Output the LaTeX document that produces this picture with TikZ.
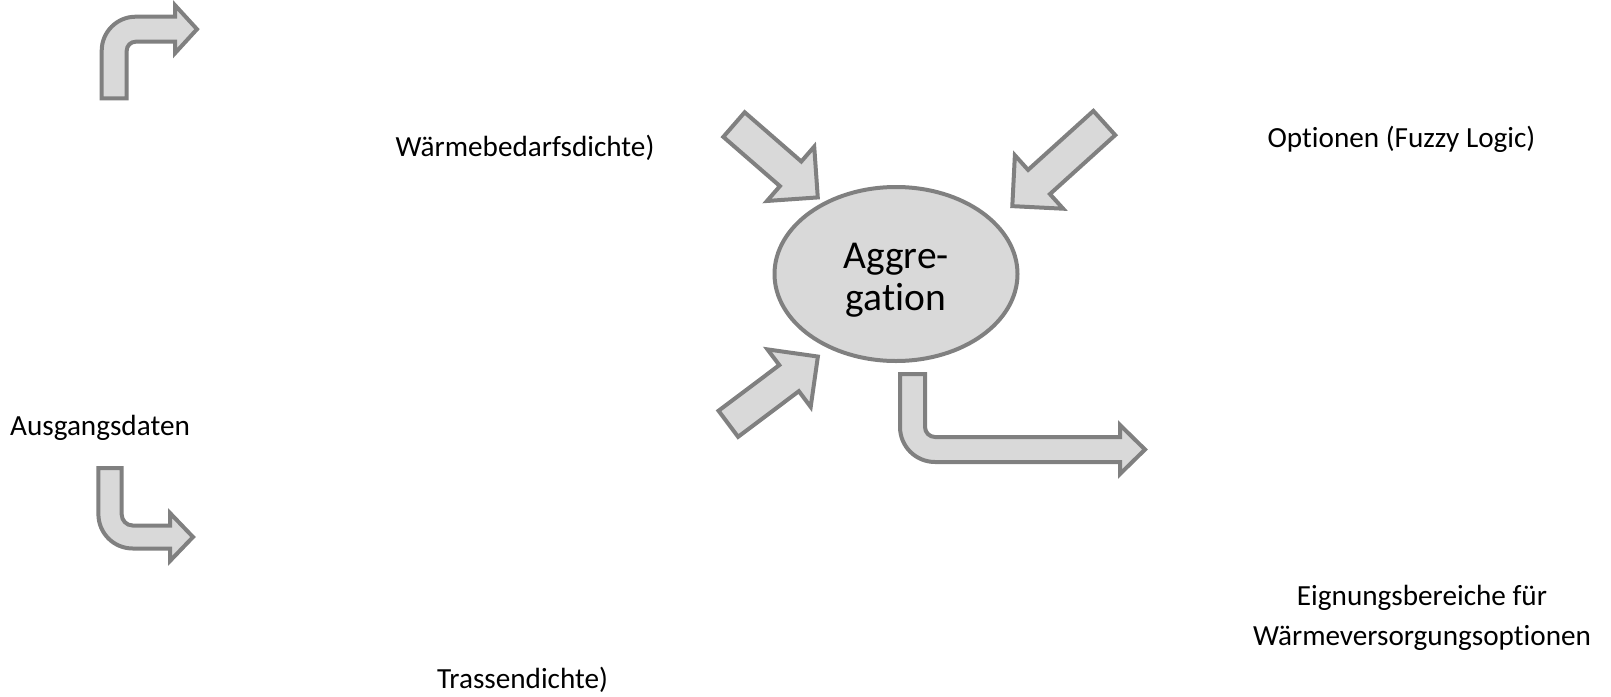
\documentclass[tikz,border=0pt]{standalone}
\usepackage{fontspec}
\setmainfont{Carlito}[Ligatures=NoCommon]
\usepackage{tikz}
\usetikzlibrary{shapes.geometric}
\usepackage{xcolor}
\definecolor{arrowfill}{HTML}{D9D9D9}
\definecolor{arrowline}{HTML}{808080}

% straight block arrow: tail point, angle, length
\newcommand{\blockarrow}[3]{%
  \begin{scope}[shift={#1},rotate=#2]
    \draw[block] (0,-16.3) -- (#3-36,-16.3) -- (#3-36,-36) -- (#3,0)
      -- (#3-36,36) -- (#3-36,16.3) -- (0,16.3) -- cycle;
  \end{scope}}

\begin{document}
\begin{tikzpicture}[x=0.5pt,y=-0.5pt]
  \tikzstyle{block}=[draw=arrowline,fill=arrowfill,line width=2pt]
  \tikzstyle{desc}=[inner sep=0pt,font=\fontsize{14.6pt}{20pt}\selectfont]
  \useasboundingbox (0,0) rectangle (1611,696);

  \node[ellipse,block,inner sep=0pt,minimum width=121.5pt,minimum height=87pt]
        (agg) at (896,274) {};
  \node[inner sep=0pt,align=center,font=\fontsize{19.75pt}{21pt}\selectfont]
        (aggtext) at ([yshift=-3pt]agg.center) {Aggre-\\gation};

  \node[desc,anchor=base] (ausgang)  at (100,435)    {Ausgangsdaten};
  \node[desc,anchor=base] (waerme)   at (525,156)    {Wärmebedarfsdichte)};
  \node[desc,anchor=base] (optionen) at (1401.5,147) {Optionen (Fuzzy Logic)};
  \node[desc,anchor=base] (trasse)   at (522.5,688)  {Trassendichte)};
  \node[desc,align=center] (eignung) at (1422,618)
        {Eignungsbereiche für\\Wärmeversorgungsoptionen};

  % arrows into the aggregation
  \blockarrow{(734,124.6)}{-41}{111}
  \blockarrow{(1104.3,123)}{-137.9}{124}
  \blockarrow{(728.3,423.8)}{36.9}{112}

  % bent arrows
  \draw[block] (126.7,98.3) -- (126.7,50.7) arc[start angle=180,end angle=270,radius=9]
    -- (175,41.7) -- (175,53.2) -- (197,29.2) -- (175,5.2) -- (175,16.7)
    -- (135.7,16.7) arc[start angle=270,end angle=180,radius=34] -- (101.7,98.3) -- cycle;
  \draw[block] (121.7,468) -- (121.7,514.5) arc[start angle=180,end angle=90,radius=11]
    -- (170,525.5) -- (170,513) -- (193,537) -- (170,561) -- (170,548.5)
    -- (132.7,548.5) arc[start angle=90,end angle=180,radius=34.3] -- (98.3,468) -- cycle;
  \draw[block] (925,374) -- (925,427) arc[start angle=180,end angle=90,radius=10]
    -- (1120,437) -- (1120,425) -- (1145,449.5) -- (1120,474) -- (1120,462)
    -- (935,462) arc[start angle=90,end angle=180,radius=35] -- (900,374) -- cycle;
\end{tikzpicture}
\end{document}
